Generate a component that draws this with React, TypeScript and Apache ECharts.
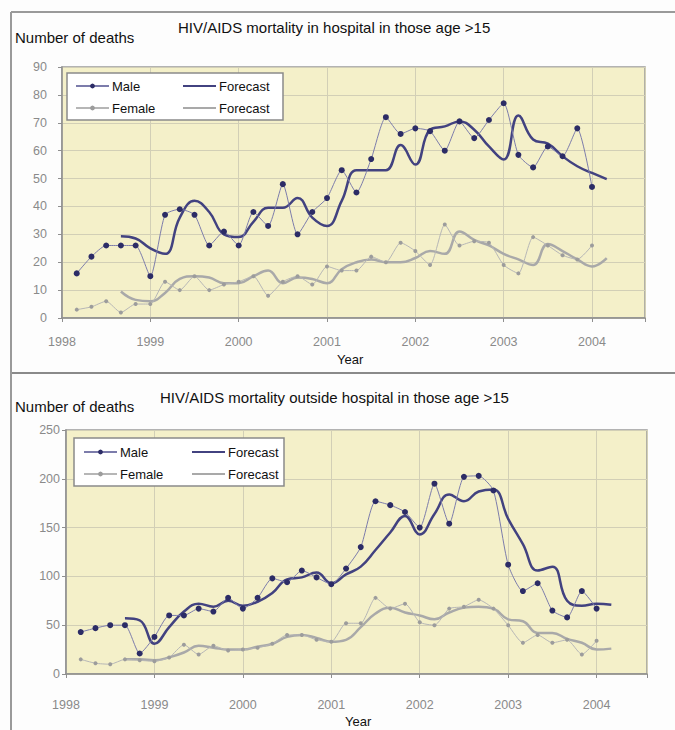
import React, { useEffect, useRef } from 'react';
import * as echarts from 'echarts';

// Bimonthly observations: k = 1..36 -> year 1998 + k/6
const topMale = [16, 22, 26, 26, 26, 15, 37, 39, 37, 26, 31, 26, 38, 33, 48, 30, 38, 43, 53, 45, 57, 72, 66, 68, 67, 60, 70.5, 64.5, 71, 77, 58.5, 54, 61.5, 58, 68, 47];
const topFemale = [3, 4, 6, 2, 5, 5, 13, 10, 15, 10, 12, 13, 15, 8, 13, 15, 12, 18.5, 17, 17, 22, 20, 27, 24, 19, 33.5, 26, 27.5, 27, 19, 16, 29, 26, 22.5, 21, 26];
// Forecasts: k = 4..37
const topMaleForecast = [29.3, 28.5, 25, 23, 36, 42, 38, 30, 29, 34.5, 39.5, 39.5, 43, 36, 33, 42, 53, 53, 53, 62, 55, 67.5, 68.7, 70.5, 67.5, 61.5, 56.8, 72.6, 64, 62.5, 58, 54.4, 52, 49.8];
const topFemaleForecast = [9.5, 6.5, 6, 9, 14, 15, 14.5, 12.5, 12.5, 15, 17, 12.5, 14.5, 14, 12.5, 17.5, 20, 21, 20, 20, 21.5, 24, 23, 31, 28, 26, 23, 21, 19, 26.5, 24, 21, 18.5, 21.5];

const botMale = [43, 47, 50, 50, 21, 38, 60, 60, 67, 64, 78, 67, 78, 98, 94, 106, 99, 92, 108, 130, 177, 173, 166, 150, 195, 154, 202, 203, 188, 112, 85, 93, 65, 58, 85, 67];
const botFemale = [15, 11, 10, 15, 14, 13, 17, 30, 20, 29, 24, 25, 27, 31, 40, 40, 35, 33, 52, 52, 78, 67, 72, 53, 50, 67, 69, 76, 67, 50, 32, 40, 32, 35, 20, 34];
const botMaleForecast = [57, 55, 31, 48, 64, 72, 69, 75, 70, 74, 83, 97, 99, 104, 93, 102, 110, 127, 145, 162, 143, 164, 184, 177, 187, 189, 159, 133, 106, 110, 75, 70, 72, 71];
const botFemaleForecast = [15, 15, 14, 17, 22, 29, 27, 25, 25, 28, 31, 38, 40, 37, 33, 35, 48, 62, 68, 63, 60, 56, 63, 68, 69, 67, 56, 54, 42, 42, 36, 32, 25, 26];

const titleTop = 'HIV/AIDS mortality in hospital in those age >15';
const titleBottom = 'HIV/AIDS mortality outside hospital in those age >15';
const yName = 'Number of deaths';
const xName = 'Year';

const FONT = 'Liberation Sans, Arial, sans-serif';

const toPoints = (vals: number[], startK: number) =>
  vals.map((v, i) => [1998 + (startK + i) / 6, v]);

const isYear = (v: number) => Math.abs(v - Math.round(v)) < 1e-6;

function makeXAxis(gridIndex: number, max: number, margin: number) {
  return {
    type: 'value',
    gridIndex,
    min: 1998,
    max,
    interval: 1,
    axisLine: { show: true, onZero: false, lineStyle: { color: '#8f8f8f', width: 1.5 } },
    axisTick: { show: true, length: 4, lineStyle: { color: '#8f8f8f' } },
    axisLabel: {
      margin,
      color: '#8a8a8a',
      fontSize: 12.5,
      fontFamily: FONT,
      formatter: (v: number) => (isYear(v) ? String(Math.round(v)) : ''),
    },
    splitLine: { show: true, lineStyle: { color: '#d2cfb6', width: 1 } },
  };
}

function makeYAxis(gridIndex: number, max: number, interval: number, margin: number) {
  return {
    type: 'value',
    gridIndex,
    min: 0,
    max,
    interval,
    axisLine: { show: true, lineStyle: { color: '#8f8f8f', width: 1.5 } },
    axisTick: { show: true, length: 4, lineStyle: { color: '#8f8f8f' } },
    axisLabel: { margin, color: '#8a8a8a', fontSize: 12.5, fontFamily: FONT },
    splitLine: { show: true, lineStyle: { color: '#d2cfb6', width: 1 } },
  };
}

const maleMarker = '#2c2c66';
const maleLine = '#7c7cab';
const maleForecast = '#424280';
const femaleMarker = '#9c9c9c';
const femaleLine = '#b6b6b6';
const femaleForecast = '#a9a9a9';

function makeSeries(idx: number, male: number[], female: number[], mf: number[], ff: number[]) {
  return [
    {
      name: 'Male',
      type: 'line',
      xAxisIndex: idx,
      yAxisIndex: idx,
      data: toPoints(male, 1),
      smooth: 0.2,
      symbol: 'circle',
      symbolSize: 6,
      itemStyle: { color: maleMarker },
      lineStyle: { color: maleLine, width: 1 },
      z: 3,
    },
    {
      name: 'Male forecast',
      type: 'line',
      xAxisIndex: idx,
      yAxisIndex: idx,
      data: toPoints(mf, 4),
      smooth: 0.45,
      symbol: 'none',
      itemStyle: { color: maleForecast },
      lineStyle: { color: maleForecast, width: 2.5 },
      z: 2,
    },
    {
      name: 'Female',
      type: 'line',
      xAxisIndex: idx,
      yAxisIndex: idx,
      data: toPoints(female, 1),
      smooth: 0.2,
      symbol: 'circle',
      symbolSize: 4,
      itemStyle: { color: femaleMarker },
      lineStyle: { color: femaleLine, width: 1 },
      z: 3,
    },
    {
      name: 'Female forecast',
      type: 'line',
      xAxisIndex: idx,
      yAxisIndex: idx,
      data: toPoints(ff, 4),
      smooth: 0.45,
      symbol: 'none',
      itemStyle: { color: femaleForecast },
      lineStyle: { color: femaleForecast, width: 2.5 },
      z: 2,
    },
  ];
}

function makeLegends(left1: number, left2: number, top: number) {
  const common = {
    orient: 'vertical',
    top,
    itemGap: 8,
    itemWidth: 33,
    itemHeight: 6,
    padding: 0,
    z: 10,
    selectedMode: false,
    textStyle: { fontSize: 13, lineHeight: 14, color: '#111', fontFamily: FONT, padding: [0, 0, 0, -2] },
    formatter: (name: string) => (name.indexOf('forecast') >= 0 ? 'Forecast' : name),
  };
  return [
    { ...common, left: left1, data: ['Male', 'Female'] },
    {
      ...common,
      left: left2,
      data: [
        { name: 'Male forecast', itemStyle: { opacity: 0 } },
        { name: 'Female forecast', itemStyle: { opacity: 0 } },
      ],
    },
  ];
}

const titleStyle = { fontSize: 15, fontWeight: 'normal', color: '#111', fontFamily: FONT };
const xNameStyle = { fontSize: 13, fontWeight: 'normal', color: '#111', fontFamily: FONT };

const option = {
  animation: false,
  backgroundColor: '#fdfdfd',
  title: [
    { text: titleTop, left: 178, top: 20, padding: 0, textStyle: titleStyle },
    { text: yName, left: 15, top: 30, padding: 0, textStyle: titleStyle },
    { text: xName, left: 337, top: 353, padding: 0, textStyle: xNameStyle },
    { text: titleBottom, left: 160, top: 390, padding: 0, textStyle: titleStyle },
    { text: yName, left: 15, top: 399, padding: 0, textStyle: titleStyle },
    { text: xName, left: 345, top: 715, padding: 0, textStyle: xNameStyle },
  ],
  grid: [
    { left: 62, top: 67, width: 583, height: 251, show: true, backgroundColor: '#f4f0c9', borderColor: '#9a9a9a', borderWidth: 1.5 },
    { left: 66, top: 430, width: 581, height: 244, show: true, backgroundColor: '#f4f0c9', borderColor: '#9a9a9a', borderWidth: 1.5 },
  ],
  xAxis: [makeXAxis(0, 2004.6, 17), makeXAxis(1, 2004.57, 24)],
  yAxis: [makeYAxis(0, 90, 10, 15), makeYAxis(1, 250, 50, 6)],
  legend: [...makeLegends(75, 182, 79), ...makeLegends(83, 191, 445)],
  graphic: [
    { type: 'line', shape: { x1: 11, y1: 12, x2: 675, y2: 12 }, style: { stroke: '#9a9a9a', lineWidth: 2 }, z: 1 },
    { type: 'line', shape: { x1: 11, y1: 373, x2: 675, y2: 373 }, style: { stroke: '#8a8a8a', lineWidth: 2 }, z: 1 },
    { type: 'line', shape: { x1: 11, y1: 12, x2: 11, y2: 730 }, style: { stroke: '#9a9a9a', lineWidth: 2 }, z: 1 },
    { type: 'rect', shape: { x: 67, y: 73, width: 216, height: 47 }, style: { fill: '#ffffff', stroke: '#8a8a8a', lineWidth: 1.5 }, z: 5 },
    { type: 'rect', shape: { x: 74, y: 438, width: 210, height: 48 }, style: { fill: '#ffffff', stroke: '#8a8a8a', lineWidth: 1.5 }, z: 5 },
  ],
  series: [
    ...makeSeries(0, topMale, topFemale, topMaleForecast, topFemaleForecast),
    ...makeSeries(1, botMale, botFemale, botMaleForecast, botFemaleForecast),
  ],
};

export default function App() {
  const ref = useRef<HTMLDivElement>(null);
  useEffect(() => {
    if (!ref.current) return;
    const chart = echarts.init(ref.current, undefined, { renderer: 'svg' });
    chart.setOption(option as any);
    return () => chart.dispose();
  }, []);
  return (
    <div
      ref={ref}
      style={{ position: 'absolute', left: 0, top: 0, width: 675, height: 730 }}
    />
  );
}
